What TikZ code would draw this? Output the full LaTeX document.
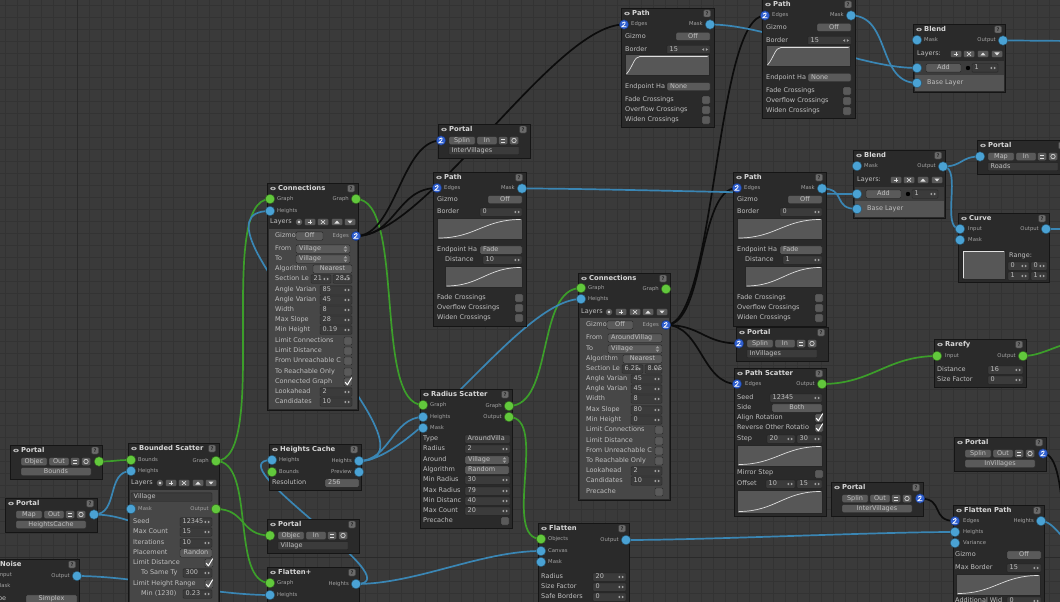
\documentclass[tikz,border=0pt]{standalone}
\usepackage{fontspec}
\setmainfont{DejaVu Sans}
\pgfdeclarelayer{bgl}
\pgfdeclarelayer{edgel}
\pgfsetlayers{bgl,edgel,main}
\definecolor{bgc}{HTML}{3A3A3A}
\definecolor{gridc}{HTML}{333333}
\definecolor{majc}{HTML}{2A2A2A}
\definecolor{nodec}{HTML}{2A2A2A}
\definecolor{nodeb}{HTML}{151515}
\definecolor{panelc}{HTML}{474747}
\definecolor{btnc}{HTML}{5A5A5A}
\definecolor{btnb}{HTML}{262626}
\definecolor{fldc}{HTML}{3B3B3B}
\definecolor{fldb}{HTML}{222222}
\definecolor{curvec}{HTML}{575757}
\definecolor{labc}{HTML}{C0C0C0}
\definecolor{plabc}{HTML}{A4A4A4}
\definecolor{ttlc}{HTML}{D8D8D8}
\definecolor{pgreen}{HTML}{62C83C}
\definecolor{pblue}{HTML}{4AA2D4}
\definecolor{pspl}{HTML}{2F5FD0}
\definecolor{wgreen}{HTML}{3C9E2A}
\definecolor{wblue}{HTML}{3A86B4}
\definecolor{wblack}{HTML}{0C0C0C}
\definecolor{arrc}{HTML}{A0A0A0}
\definecolor{glyphc}{HTML}{E0E0E0}
\definecolor{helpc}{HTML}{6A6A6A}
\definecolor{helpd}{HTML}{3A3A3A}
\definecolor{helpt}{HTML}{262626}
\definecolor{iconc}{HTML}{AEAEAE}
\definecolor{addrowc}{HTML}{3C3C3C}
\definecolor{baserowc}{HTML}{545454}
\tikzset{
  lab/.style={anchor=west, inner sep=0pt, text=labc, font=\fontsize{6.5}{7}\selectfont, text height=4.6pt, text depth=1.2pt},
  plab/.style={anchor=west, inner sep=0pt, text=plabc, font=\fontsize{5.3}{6}\selectfont, text height=3.8pt, text depth=1pt},
  ttl/.style={anchor=west, inner sep=0pt, text=ttlc, font=\bfseries\fontsize{6.8}{7}\selectfont, text height=4.8pt, text depth=1.3pt},
  helpb/.style={rectangle, rounded corners=1.2pt, fill=helpc, draw=helpd, minimum width=7pt, minimum height=7pt, inner sep=0pt, text=helpt, font=\bfseries\fontsize{5}{5}\selectfont},
  gport/.style={circle, inner sep=0pt, minimum size=9.5pt, fill=pgreen, draw=pgreen!50!black, line width=0.4pt},
  bport/.style={circle, inner sep=0pt, minimum size=9.5pt, fill=pblue, draw=pblue!50!black, line width=0.4pt},
  sport/.style={circle, inner sep=0pt, minimum size=9.5pt, fill=pspl, draw=pspl!50!black, line width=0.4pt},
  nodebox/.style={fill=nodec, draw=nodeb, line width=0.9pt},
  fld/.style={fill=fldc, draw=fldb, line width=0.4pt, rounded corners=0.8pt},
  btn/.style={fill=btnc, draw=btnb, line width=0.4pt, rounded corners=1.2pt},
  chkb/.style={fill=btnc, draw=btnb, line width=0.4pt, rounded corners=1pt},
  chkm/.style={draw=white, line width=1pt, line cap=round, line join=round},
  cvb/.style={fill=curvec, draw=btnb, line width=0.4pt},
  cvl/.style={draw=white!88!black, line width=0.7pt},
  glyph/.style={draw=glyphc, line width=0.6pt},
  glyphf/.style={fill=glyphc},
  wireg/.style={draw=wgreen, line width=1.7pt},
  wireb/.style={draw=wblue, line width=1.7pt},
  wires/.style={draw=wblack, line width=1.7pt},
}
\newcount\tcnt
\newcommand\nxt{\global\advance\tcnt by 1\relax}
\newcommand\xNB[5]{%
  \filldraw[nodebox] (#1,#2) rectangle (#3,#4);
  \fill[iconc] ({#1+6},{#2+5.5}) ellipse (2.9 and 1.7);
  \fill[nodec] ({#1+6},{#2+5.5}) circle (0.8);
  \nxt\node[ttl] (t\the\tcnt) at ({#1+11},{#2+5.5}) {#5};
  \nxt\node[helpb] (t\the\tcnt) at ({#3-7},{#2+5.5}) {?};}
\newcommand\xTL[3]{\nxt\node[lab] (t\the\tcnt) at (#1,#2) {#3};}
\newcommand\xPL[3]{\nxt\node[plab] (t\the\tcnt) at (#1,#2) {#3};}
\newcommand\xPLR[3]{\nxt\node[plab,anchor=east] (t\the\tcnt) at (#1,#2) {#3};}
\newcommand\xDA[2]{\fill[arrc] ({#1-8},{#2}) -- ({#1-5.8},{#2-1.4}) -- ({#1-5.8},{#2+1.4}) -- cycle;
  \fill[arrc] ({#1-2},{#2}) -- ({#1-4.2},{#2-1.4}) -- ({#1-4.2},{#2+1.4}) -- cycle;}
\newcommand\xFL[4]{\filldraw[fld] (#1,{#3-4.2}) rectangle (#2,{#3+4.2}); \xTL{#1+2.5}{#3}{#4}\xDA{#2}{#3}}
\newcommand\xFP[4]{\filldraw[fld] (#1,{#3-4.2}) rectangle (#2,{#3+4.2}); \xTL{#1+2.5}{#3}{#4}}
\newcommand\xBT[4]{\filldraw[btn] (#1,{#3-4.2}) rectangle (#2,{#3+4.2});
  \nxt\node[lab,anchor=center] (t\the\tcnt) at ({(#1+#2)/2},{#3}) {#4};}
\newcommand\xBL[4]{\filldraw[btn] (#1,{#3-4.2}) rectangle (#2,{#3+4.2}); \xTL{#1+3}{#3}{#4}}
\newcommand\xUD[2]{\fill[arrc] ({#1-4.5},{#2-2.8}) -- ({#1-6.3},{#2-0.7}) -- ({#1-2.7},{#2-0.7}) -- cycle;
  \fill[arrc] ({#1-4.5},{#2+2.8}) -- ({#1-6.3},{#2+0.7}) -- ({#1-2.7},{#2+0.7}) -- cycle;}
\newcommand\xPU[4]{\xBL{#1}{#2}{#3}{#4}\xUD{#2}{#3}}
\newcommand\xCK[3]{\filldraw[chkb] ({#1-4},{#2-4}) rectangle ({#1+4},{#2+4});
  \ifnum#3=1 \draw[chkm] ({#1-2.8},{#2+0.2}) -- ({#1-0.6},{#2+2.8}) -- ({#1+3.6},{#2-4.2});\fi}
\newcommand\xCVS[4]{\filldraw[cvb] (#1,#2) rectangle (#3,#4);
  \draw[cvl] ({#1+1.5},{#4-1.5}) .. controls ({#1+0.45*((#3)-(#1))},{#4-1.5}) and ({#1+0.55*((#3)-(#1))},{#2+1.5}) .. ({#3-1.5},{#2+1.5});}
\newcommand\xCVR[4]{\filldraw[cvb] (#1,#2) rectangle (#3,#4);
  \draw[cvl] ({#1+1.5},{#4-1.5}) .. controls ({#1+8},{#4-9}) and ({#1+9},{#2+2}) .. ({#1+15},{#2+2}) -- ({#3-1.5},{#2+2});}
\newcommand\xLBbox[2]{\filldraw[btn] ({#1-5.5},{#2-3.6}) rectangle ({#1+5.5},{#2+3.6});}
\newcommand\xLBP[2]{\xLBbox{#1}{#2}\draw[glyph] ({#1-2.3},{#2}) -- ({#1+2.3},{#2}) ({#1},{#2-2.3}) -- ({#1},{#2+2.3});}
\newcommand\xLBX[2]{\xLBbox{#1}{#2}\draw[glyph] ({#1-2},{#2-1.8}) -- ({#1+2},{#2+1.8}) ({#1-2},{#2+1.8}) -- ({#1+2},{#2-1.8});}
\newcommand\xLBU[2]{\xLBbox{#1}{#2}\fill[glyphf] ({#1-2.6},{#2+1.5}) -- ({#1+2.6},{#2+1.5}) -- ({#1},{#2-1.5}) -- cycle;}
\newcommand\xLBD[2]{\xLBbox{#1}{#2}\fill[glyphf] ({#1-2.6},{#2-1.5}) -- ({#1+2.6},{#2-1.5}) -- ({#1},{#2+1.5}) -- cycle;}
\newcommand\xLBO[2]{\fill[btnc] ({#1},{#2}) circle (3.3); \fill[glyphf] ({#1},{#2}) circle (1.3);}
\newcommand\xIBa[2]{\filldraw[btn] ({#1-4.5},{#2-4.2}) rectangle ({#1+4.5},{#2+4.2});
  \draw[glyph] ({#1-2.2},{#2-1.4}) -- ({#1+2.2},{#2-1.4}) ({#1-2.2},{#2+1.4}) -- ({#1+2.2},{#2+1.4});}
\newcommand\xIBb[2]{\filldraw[btn] ({#1-4.5},{#2-4.2}) rectangle ({#1+4.5},{#2+4.2}); \draw[glyph] ({#1},{#2}) circle (2.2);}
\newcommand\xGP[3]{\node[gport] (#1) at (#2,#3) {};}
\newcommand\xBP[3]{\node[bport] (#1) at (#2,#3) {};}
\newcommand\xSP[3]{\node[sport] (#1) at (#2,#3) {};
  \draw[white, line width=0.8pt] ({#2-2},{#3-1.3}) .. controls ({#2-1.4},{#3-3.3}) and ({#2+2.6},{#3-2.8}) .. ({#2+0.6},{#3-0.2}) -- ({#2-2.2},{#3+2.3}) -- ({#2+2.4},{#3+2.3});}
\newcommand\xPSEL[4]{\if#1G\xGP{#2}{#3}{#4}\fi\if#1B\xBP{#2}{#3}{#4}\fi\if#1S\xSP{#2}{#3}{#4}\fi}
\newcommand\xPORTAL[8]{%
  \xNB{#1}{#2}{#1+92}{#2+34}{Portal}%
  \xBT{#1+11}{#1+37}{#2+16.5}{#3}%
  \xBT{#1+39}{#1+59}{#2+16.5}{#4}%
  \xIBa{#1+65}{#2+16.5}\xIBb{#1+76}{#2+16.5}%
  \if#6i\xFP{#1+11}{#1+81}{#2+26.5}{#5}\xPSEL{#8}{#7}{#1+3}{#2+16.5}%
  \else\xBT{#1+11}{#1+81}{#2+26.5}{#5}\xPSEL{#8}{#7}{#1+89}{#2+16.5}\fi}
\newcommand\xPATHA[5]{%
  \xNB{#1}{#2}{#1+93}{#2+119}{Path}
  \xTL{#1+4}{#2+28.5}{Gizmo} \xBT{#1+55}{#1+89}{#2+28.5}{Off}
  \xTL{#1+4}{#2+41.5}{Border} \xFL{#1+46}{#1+89}{#2+41.5}{#5}
  \xCVR{#1+4}{#2+46.5}{#1+88}{#2+67.5}
  \xTL{#1+4}{#2+78.5}{Endpoint Ha} \xBL{#1+46}{#1+89}{#2+78.5}{None}
  \xTL{#1+4}{#2+92}{Fade Crossings} \xCK{#1+85}{#2+92}{0}
  \xTL{#1+4}{#2+102}{Overflow Crossings} \xCK{#1+85}{#2+102}{0}
  \xTL{#1+4}{#2+112}{Widen Crossings} \xCK{#1+85}{#2+112}{0}
  \xPL{#1+10}{#2+16.5}{Edges} \xPLR{#1+82}{#2+16.5}{Mask}
  \xSP{#3}{#1+3}{#2+16.5} \xBP{#4}{#1+89}{#2+16.5}}
\newcommand\xPATHC[5]{%
  \xNB{#1}{#2}{#1+93}{#2+154}{Path}
  \xTL{#1+4}{#2+27.5}{Gizmo} \xBT{#1+55}{#1+89}{#2+27.5}{Off}
  \xTL{#1+4}{#2+40}{Border} \xFL{#1+47}{#1+89}{#2+40}{0}
  \xCVS{#1+4}{#2+46}{#1+89}{#2+67.5}
  \xTL{#1+4}{#2+78}{Endpoint Ha} \xBL{#1+47}{#1+89}{#2+78}{Fade}
  \xTL{#1+12}{#2+88}{Distance} \xFL{#1+50}{#1+89}{#2+88}{#5}
  \xCVS{#1+12}{#2+94}{#1+89}{#2+115.5}
  \xTL{#1+4}{#2+126}{Fade Crossings} \xCK{#1+86}{#2+126}{0}
  \xTL{#1+4}{#2+136}{Overflow Crossings} \xCK{#1+86}{#2+136}{0}
  \xTL{#1+4}{#2+146}{Widen Crossings} \xCK{#1+86}{#2+146}{0}
  \xPL{#1+11}{#2+16}{Edges} \xPLR{#1+82}{#2+16.5}{Mask}
  \xSP{#3}{#1+4}{#2+16} \xBP{#4}{#1+89}{#2+16.5}}
\newcommand\xBLEND[6]{%
  \xNB{#1}{#2}{#1+92}{#2+68}{Blend}
  \xPL{#1+11}{#2+16}{Mask} \xPLR{#1+83}{#2+16.5}{Output}
  \xTL{#1+4}{#2+30}{Layers:} \xLBP{#1+43}{#2+30} \xLBX{#1+56}{#2+30} \xLBU{#1+70}{#2+30} \xLBD{#1+84}{#2+30}
  \fill[addrowc] ({#1+1.5},{#2+37}) rectangle ({#1+90.5},{#2+51});
  \fill[baserowc] ({#1+1.5},{#2+51}) rectangle ({#1+90.5},{#2+67});
  \xBT{#1+13}{#1+48}{#2+44}{Add}
  \fill[black] ({#1+55},{#2+44}) circle (2.2);
  \xFL{#1+59}{#1+85}{#2+44}{1}
  \xTL{#1+14}{#2+59}{Base Layer}
  \xBP{#3}{#1+4}{#2+16} \xBP{#4}{#1+90}{#2+16.5}
  \xBP{#5}{#1+4}{#2+44} \xBP{#6}{#1+4}{#2+59}}
\newcommand\xCN[4]{\draw[#1] (#2.center) .. controls +(#4,0) and +(-#4,0) .. (#3.center);}
\begin{document}
\begin{tikzpicture}[x=1pt,y=-1pt]
\useasboundingbox (0,0) rectangle (1060,602);
\begin{pgfonlayer}{bgl}
\fill[bgc] (0,0) rectangle (1060,602);
\foreach \gx in {5,17,...,1060} \draw[gridc,line width=0.6pt] (\gx,0) -- (\gx,602);
\foreach \gy in {5,17,...,602} \draw[gridc,line width=0.6pt] (0,\gy) -- (1060,\gy);
\draw[majc,line width=0.9pt] (77,0) -- (77,602) (0,557) -- (1060,557);
\end{pgfonlayer}

% ---------- Path nodes
\xPATHA{621}{8}{paE}{paM}{15}
\xPATHA{762}{-1}{pbE}{pbM}{15}
\xPATHC{433}{172}{pcE}{pcM}{10}
\xPATHC{733}{172}{pdE}{pdM}{1}

% ---------- Blends
\xBLEND{913}{24}{btM}{btOut}{btAdd}{btBase}
\xBLEND{853}{150}{bmM}{bmOut}{bmAdd}{bmBase}

% ---------- Portals
\xPORTAL{438}{124}{Splin}{In}{InterVillages}{i}{pivIn}{S}
\xPORTAL{977}{140}{Map}{In}{Roads}{i}{prIn}{B}
\xPORTAL{736}{327}{Splin}{In}{InVillages}{i}{pivmIn}{S}
\xPORTAL{954}{437}{Splin}{Out}{InVillages}{o}{pivrOut}{S}
\xPORTAL{831}{482}{Splin}{Out}{InterVillages}{o}{pIVrOut}{S}
\xPORTAL{267}{519}{Objec}{In}{Village}{i}{pvIn}{G}
\xPORTAL{10}{445}{Objec}{Out}{Bounds}{o}{pbdOut}{G}
\xPORTAL{5}{498}{Map}{Out}{HeightsCache}{o}{phcOut}{B}

% ---------- Curve
\xNB{958}{213}{1049}{282}{Curve}
\xPL{968}{229}{Input} \xPLR{1039}{229}{Output} \xPL{968}{240}{Mask}
\filldraw[cvb] (962,250) rectangle (1005,279);
\draw[cvl] (963.5,277.5) -- (963.5,251.5) -- (1003.5,251.5);
\xTL{1009}{256}{Range:}
\xFL{1008}{1029}{266}{0} \xFL{1031}{1047}{266}{0}
\xFL{1008}{1029}{276}{1} \xFL{1031}{1047}{276}{1}
\xBP{cvIn}{960}{229} \xBP{cvOut}{1046}{229} \xBP{cvM}{960}{240}

% ---------- Rarefy
\xNB{934}{339}{1026}{387}{Rarefy}
\xPL{945}{356}{Input} \xPLR{1016}{356}{Output}
\xTL{937}{370}{Distance} \xFL{988}{1023}{370}{16}
\xTL{937}{380}{Size Factor} \xFL{988}{1023}{380}{0}
\xGP{rfIn}{937}{356} \xGP{rfOut}{1023}{356}

% ---------- Connections A
\xNB{267}{183}{358}{410}{Connections}
\xPL{277}{199}{Graph} \xPLR{349}{199}{Graph} \xPL{277}{211}{Heights}
\xTL{270}{222}{Layers} \xLBO{299}{222} \xLBP{310}{222} \xLBX{323}{222} \xLBU{337}{222} \xLBD{350}{222}
\fill[panelc] (268.5,229) rectangle (357,409);
\xTL{275}{236}{Gizmo} \xBT{296}{323}{236}{Off} \xPLR{349}{236}{Edges}
\xTL{275}{249}{From} \xPU{296}{350}{249}{Village}
\xTL{275}{259}{To} \xPU{296}{350}{259}{Village}
\xTL{275}{269}{Algorithm} \xBT{313}{352}{269}{Nearest}
\xTL{275}{279}{Section Le} \xFL{311}{331}{279}{21} \xFL{333}{352}{279}{28.5}
\xTL{275}{290}{Angle Varian} \xFL{320}{352}{290}{85}
\xTL{275}{300}{Angle Varian} \xFL{320}{352}{300}{45}
\xTL{275}{310}{Width} \xFL{320}{352}{310}{8}
\xTL{275}{320}{Max Slope} \xFL{320}{352}{320}{28}
\xTL{275}{330}{Min Height} \xFL{320}{352}{330}{0.19}
\xTL{275}{341}{Limit Connections} \xCK{348}{341}{0}
\xTL{275}{351}{Limit Distance} \xCK{348}{351}{0}
\xTL{275}{361}{From Unreachable C} \xCK{348}{361}{0}
\xTL{275}{372}{To Reachable Only} \xCK{348}{372}{0}
\xTL{275}{382}{Connected Graph} \xCK{348}{382}{1}
\xTL{275}{392}{Lookahead} \xFL{320}{352}{392}{2}
\xTL{275}{402}{Candidates} \xFL{320}{352}{402}{10}
\xGP{caGin}{270}{199} \xGP{caGout}{356}{199} \xBP{caH}{270}{211} \xSP{caE}{356}{236}

% ---------- Connections B
\xNB{578}{273}{670}{500}{Connections}
\xPL{588}{288}{Graph} \xPLR{659}{289}{Graph} \xPL{588}{299}{Heights}
\xTL{581}{312}{Layers} \xLBO{609}{312} \xLBP{621}{312} \xLBX{635}{312} \xLBU{648}{312} \xLBD{662}{312}
\fill[panelc] (579.5,318) rectangle (669,499);
\xTL{586}{325}{Gizmo} \xBT{607}{633}{325}{Off} \xPLR{659}{325}{Edges}
\xTL{586}{338}{From} \xBL{608}{662}{338}{AroundVillag}
\xTL{586}{349}{To} \xPU{608}{662}{349}{Village}
\xTL{586}{359}{Algorithm} \xBT{623}{662}{359}{Nearest}
\xTL{586}{369}{Section Le} \xFL{622}{643}{369}{6.25} \xFL{645}{662}{369}{8.05}
\xTL{586}{379}{Angle Varian} \xFL{631}{662}{379}{45}
\xTL{586}{389}{Angle Varian} \xFL{631}{662}{389}{45}
\xTL{586}{399}{Width} \xFL{631}{662}{399}{8}
\xTL{586}{410}{Max Slope} \xFL{631}{662}{410}{80}
\xTL{586}{420}{Min Height} \xFL{631}{662}{420}{0}
\xTL{586}{430}{Limit Connections} \xCK{659}{430}{0}
\xTL{586}{441}{Limit Distance} \xCK{659}{441}{0}
\xTL{586}{451}{From Unreachable C} \xCK{659}{451}{0}
\xTL{586}{461}{To Reachable Only} \xCK{659}{461}{0}
\xTL{586}{471}{Lookahead} \xFL{631}{662}{471}{2}
\xTL{586}{481}{Candidates} \xFL{631}{662}{481}{10}
\xTL{586}{492}{Precache} \xCK{659}{492}{0}
\xGP{cbGin}{581}{288} \xGP{cbGout}{666}{289} \xBP{cbH}{581}{299} \xSP{cbE}{666}{325}

% ---------- Path Scatter
\xNB{734}{368}{826}{516}{Path Scatter}
\xPL{745}{384}{Edges} \xPLR{815}{384}{Output}
\xTL{737}{398}{Seed} \xFL{770}{822}{398}{12345}
\xTL{737}{408}{Side} \xBT{772}{822}{408}{Both}
\xTL{737}{418}{Align Rotation} \xCK{819}{418}{1}
\xTL{737}{428}{Reverse Other Rotatio} \xCK{819}{428}{1}
\xTL{737}{439}{Step} \xFL{767}{795}{439}{20} \xFL{797}{822}{439}{30}
\xCVS{737}{445}{822}{466}
\xTL{737}{473}{Mirror Step} \xCK{819}{474}{0}
\xTL{737}{484}{Offset} \xFL{766}{795}{484}{10} \xFL{797}{822}{484}{15}
\xCVS{737}{490}{822}{513}
\xSP{psE}{737}{384} \xGP{psOut}{822}{384}

% ---------- Flatten Path
\xNB{953}{505}{1044}{615}{Flatten Path}
\xPL{963}{521}{Edges} \xPLR{1034}{521}{Heights} \xPL{963}{532}{Heights} \xPL{963}{543}{Variance}
\xTL{955}{555}{Gizmo} \xBT{1007}{1041}{555}{Off}
\xTL{955}{568}{Max Border} \xFL{1007}{1041}{568}{15}
\xCVS{956}{574}{1040}{595}
\xTL{955}{601}{Additional Wid} \xFL{1007}{1041}{601}{0}
\xSP{fpaE}{955}{521} \xBP{fpaHout}{1041}{521} \xBP{fpaHin}{955}{532} \xBP{fpaV}{955}{543}

% ---------- Radius Scatter
\xNB{420}{389}{512}{528}{Radius Scatter}
\xPL{430}{405}{Graph} \xPLR{502}{406}{Graph} \xPL{430}{417}{Heights} \xPLR{502}{417}{Output} \xPL{430}{428}{Mask}
\xTL{423}{439}{Type} \xFP{465}{510}{439}{AroundVilla}
\xTL{423}{449}{Radius} \xFL{465}{510}{449}{2}
\xTL{423}{460}{Around} \xPU{465}{509}{460}{Village}
\xTL{423}{470}{Algorithm} \xBL{465}{509}{470}{Random}
\xTL{423}{480}{Min Radius} \xFL{465}{510}{480}{30}
\xTL{423}{491}{Max Radius} \xFL{465}{510}{491}{79}
\xTL{423}{501}{Min Distanc} \xFL{465}{510}{501}{40}
\xTL{423}{511}{Max Count} \xFL{465}{510}{511}{20}
\xTL{423}{521}{Precache} \xCK{505}{521}{0}
\xGP{rsGin}{423}{405} \xGP{rsGout}{509}{406} \xBP{rsH}{423}{417} \xGP{rsOut}{509}{417} \xBP{rsM}{423}{428}

% ---------- Heights Cache
\xNB{269}{444}{361}{490}{Heights Cache}
\xPL{279}{460}{Heights} \xPLR{352}{461}{Heights} \xPL{279}{472}{Bounds} \xPLR{352}{472}{Preview}
\xTL{272}{483}{Resolution} \xBL{325}{359}{483}{256}
\xBP{hcHin}{272}{460} \xBP{hcHout}{359}{461} \xGP{hcB}{272}{472} \xBP{hcP}{359}{472}

% ---------- Flatten+
\xNB{267}{567}{359}{615}{Flatten+}
\xPL{277}{583}{Graph} \xPLR{349}{584}{Heights} \xPL{277}{595}{Heights}
\xGP{fplG}{270}{583} \xBP{fplHout}{356}{584} \xBP{fplHin}{270}{595}

% ---------- Flatten
\xNB{538}{523}{629}{615}{Flatten}
\xPL{548}{539}{Objects} \xPLR{619}{540}{Output} \xPL{548}{551}{Canvas} \xPL{548}{562}{Mask}
\xTL{541}{577}{Radius} \xFL{593}{626}{577}{20}
\xTL{541}{587}{Size Factor} \xFL{593}{626}{587}{0}
\xTL{541}{597}{Safe Borders} \xFL{593}{626}{597}{0}
\xGP{flObj}{541}{539} \xBP{flOut}{626}{540} \xBP{flCan}{541}{551} \xBP{flM}{541}{562}

% ---------- Noise (cut at left)
\xNB{-11}{559}{79}{615}{Noise}
\xPL{-2}{575}{Input} \xPLR{70}{576}{Output} \xPL{-3.5}{586}{Mask}
\xTL{-9}{599}{Type} \xBT{26}{77}{599}{Simplex}
\xBP{nzOut}{77}{576}

% ---------- Bounded Scatter
\xNB{128}{443}{219}{615}{Bounded Scatter}
\xPL{138}{460}{Bounds} \xPLR{209}{461}{Graph} \xPL{138}{471}{Heights}
\xTL{131}{483}{Layers} \xLBO{160}{483} \xLBP{171}{483} \xLBX{184}{483} \xLBU{198}{483} \xLBD{211}{483}
\fill[panelc] (129.5,490) rectangle (218,615);
\xFP{131}{212}{497}{Village}
\xPL{138}{509}{Mask} \xPLR{209}{509}{Output}
\xTL{133}{522}{Seed} \xFL{180}{212}{522}{12345}
\xTL{133}{532}{Max Count} \xFL{180}{212}{532}{15}
\xTL{133}{543}{Iterations} \xFL{180}{212}{543}{10}
\xTL{133}{553}{Placement} \xBT{180}{212}{553}{Randon}
\xTL{133}{563}{Limit Distance} \xCK{209}{563}{1}
\xTL{141}{573}{To Same Ty} \xFL{183}{212}{573}{300}
\xTL{133}{584}{Limit Height Range} \xCK{209}{584}{1}
\xTL{141}{594}{Min (1230)} \xFL{183}{212}{594}{0.23}
\xGP{bsB}{131}{460} \xGP{bsG}{216}{461} \xBP{bsH}{131}{471} \xBP{bsM}{131}{509} \xGP{bsO}{216}{509}

% ---------- free ends
\coordinate (rfEnd) at (1080,342);
\coordinate (btEnd) at (1080,41);
\coordinate (cvEnd) at (1080,229);
\coordinate (fpaEnd) at (1080,548);
\coordinate (pivrEnd) at (1085,600);
\coordinate (phcHid) at (200,540);

\begin{pgfonlayer}{edgel}
\xCN{wireg}{pbdOut}{bsB}{15}
\xCN{wireg}{bsG}{caGin}{55}
\xCN{wireg}{bsG}{fplG}{40}
\xCN{wireg}{bsO}{pvIn}{30}
\xCN{wireg}{caGout}{rsGin}{50}
\xCN{wireg}{rsGout}{cbGin}{45}
\xCN{wireg}{rsOut}{flObj}{40}
\xCN{wireg}{psOut}{rfIn}{50}
\xCN{wireg}{rfOut}{rfEnd}{20}
\xCN{wires}{caE}{pivIn}{40}
\xCN{wires}{caE}{pcE}{40}
\xCN{wires}{caE}{paE}{70}
\xCN{wires}{cbE}{pbE}{50}
\xCN{wires}{cbE}{pdE}{40}
\xCN{wires}{cbE}{pivmIn}{35}
\xCN{wires}{cbE}{psE}{35}
\xCN{wires}{pIVrOut}{fpaE}{25}
\xCN{wires}{pivrOut}{pivrEnd}{30}
\xCN{wireb}{phcOut}{bsH}{25}
\xCN{wireb}{phcOut}{phcHid}{40}
\xCN{wireb}{nzOut}{fplHin}{60}
\xCN{wireb}{fplHout}{hcHin}{60}
\xCN{wireb}{fplHout}{flCan}{60}
\xCN{wireb}{hcHout}{caH}{100}
\xCN{wireb}{hcHout}{rsH}{30}
\xCN{wireb}{hcHout}{cbH}{60}
\xCN{wireb}{paM}{btAdd}{60}
\xCN{wireb}{pbM}{btBase}{40}
\xCN{wireb}{btOut}{btEnd}{20}
\xCN{wireb}{pcM}{bmAdd}{80}
\xCN{wireb}{pdM}{bmBase}{25}
\xCN{wireb}{bmOut}{prIn}{20}
\xCN{wireb}{bmOut}{cvIn}{20}
\xCN{wireb}{cvOut}{cvEnd}{20}
\xCN{wireb}{flOut}{fpaHin}{80}
\xCN{wireb}{fpaHout}{fpaEnd}{15}
\end{pgfonlayer}
\end{tikzpicture}
\end{document}
